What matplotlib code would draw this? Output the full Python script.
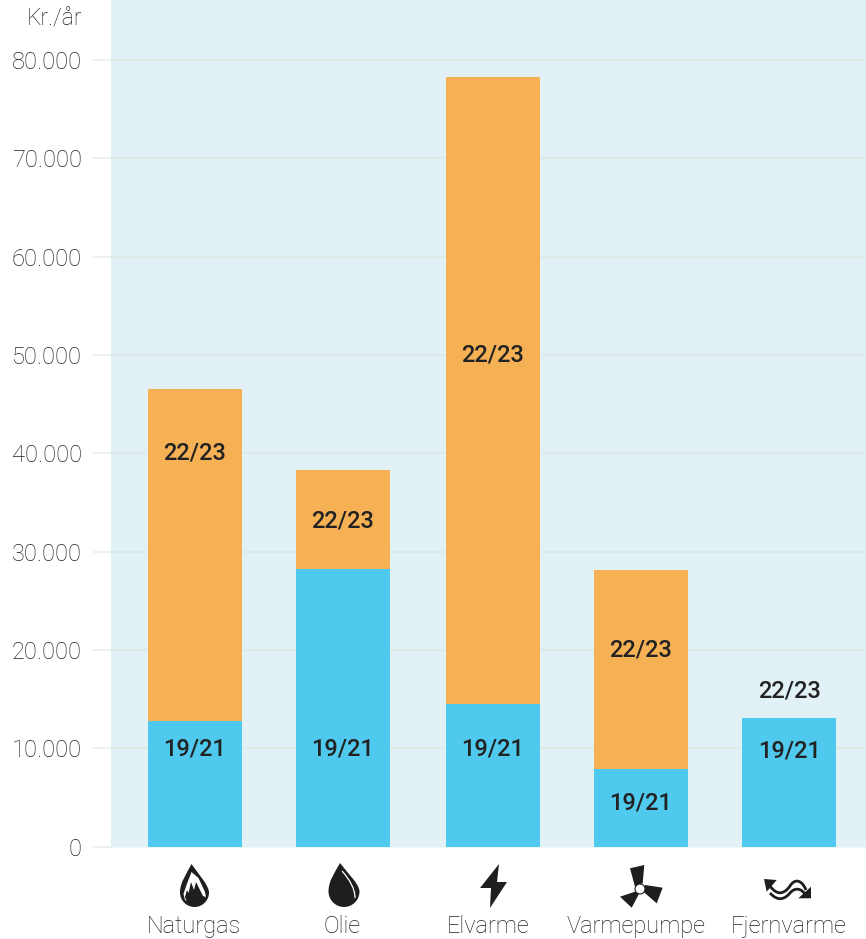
import matplotlib
matplotlib.use("Agg")
import matplotlib.pyplot as plt
from matplotlib.path import Path
from matplotlib.patches import PathPatch, Polygon, Circle

categories = ["Naturgas", "Olie", "Elvarme", "Varmepumpe", "Fjernvarme"]
cost_19_21 = [12800, 28200, 14500, 7900, 13100]
cost_22_23_total = [46500, 38300, 78300, 28100, 13100]
label_y_19_21 = [9900, 9900, 9900, 4400, 9700]
label_y_22_23 = [40000, 33100, 50000, 20000, 15800]
yticks = [0, 10000, 20000, 30000, 40000, 50000, 60000, 70000, 80000]
ytick_labels = ["0", "10.000", "20.000", "30.000", "40.000", "50.000", "60.000", "70.000", "80.000"]
bar_pos = [0, 0.993, 2.003, 3.003, 4]
name_pos = [-0.007, 0.993, 1.975, 2.970, 3.995]

W, H = 866, 939
plt.rcParams["font.family"] = ["Roboto", "DejaVu Sans"]
BG = "#E1F1F5"; GRID = "#DCEBE6"; ORANGE = "#F6B155"; BLUE = "#4FC9EE"; INK = "#222222"; GREY = "#222222"

fig = plt.figure(figsize=(W / 100, H / 100), dpi=100, facecolor="white")
ax = fig.add_axes([111 / W, (H - 846.5) / H, (W - 111) / W, 846.5 / H], facecolor=BG)
ax.set_xlim(-0.566, 4.518)
ax.set_ylim(0, 86100)

increase = [t - b for t, b in zip(cost_22_23_total, cost_19_21)]
ax.set_axisbelow(True)
ax.yaxis.grid(True, color=GRID, lw=1.6)
ax.bar(bar_pos, cost_19_21, width=0.633, color=BLUE, zorder=3)
ax.bar(bar_pos, increase, bottom=cost_19_21, width=0.633, color=ORANGE, zorder=3)

for i, p in enumerate(bar_pos):
    ax.text(p, label_y_19_21[i], "19/21", ha="center", va="center", fontsize=17, fontweight="medium", color=INK, zorder=4)
    ax.text(p, label_y_22_23[i], "22/23", ha="center", va="center", fontsize=17, fontweight="medium", color=INK, zorder=4)

for s in ax.spines.values():
    s.set_visible(False)
ax.spines["bottom"].set_visible(True)
ax.spines["bottom"].set_color("#EAF3F5")
ax.spines["bottom"].set_linewidth(1.2)

ax.set_yticks(yticks, ytick_labels)
ax.tick_params(axis="y", length=13, width=1.2, color="#EAEFEC", pad=8, labelsize=17, labelcolor=GREY)
ax.set_xticks(name_pos, categories)
ax.tick_params(axis="x", length=0, pad=49.5, labelsize=17, labelcolor=GREY)
for lab in ax.get_yticklabels() + ax.get_xticklabels():
    lab.set_fontweight("light")

fig.text(82 / W, 1 - 19 / H, "Kr./år", ha="right", va="center", fontsize=16.5, fontweight="light", color=GREY)

# Icon layer in pixel coordinates
ic = fig.add_axes([0, 0, 1, 1], facecolor="none")
ic.set_xlim(0, W); ic.set_ylim(H, 0); ic.axis("off")
D = "#1E1E1E"

def drop(cx, tip_x, top, bottom, hw):
    r = hw
    cy = bottom - r
    k = 0.55 * r
    verts = [(tip_x, top),
             (tip_x + 0.4 * hw, top + 0.3 * (cy - top)), (cx + hw, cy - 0.5 * r), (cx + hw, cy),
             (cx + hw, cy + k), (cx + k, bottom), (cx, bottom),
             (cx - k, bottom), (cx - hw, cy + k), (cx - hw, cy),
             (cx - hw, cy - 0.7 * r), (tip_x - 0.35 * hw, top + 0.35 * (cy - top)), (tip_x, top), (tip_x, top)]
    codes = [Path.MOVETO] + [Path.CURVE4] * 12 + [Path.CLOSEPOLY]
    return Path(verts, codes)

# Naturgas: drop with white outlined flame
ic.add_patch(PathPatch(drop(194.5, 191.5, 864, 907, 14.5), fc=D, ec="none"))
ic.add_patch(Polygon([(183.5, 894), (186.5, 885), (191.5, 872), (198.5, 878), (205, 892), (206, 897),
                      (195, 905), (185, 900)], fc="white", ec="none"))
ic.add_patch(Polygon([(185, 897), (187, 890), (188.5, 893), (191, 882), (194, 890), (196, 882), (203, 896),
                      (206, 897), (200, 905), (188, 905)], fc=D, ec="none"))

# Olie: drop with highlight
ic.add_patch(PathPatch(drop(344, 340, 863, 907, 15.5), fc=D, ec="none"))
ic.add_patch(PathPatch(Path([(342, 871), (350, 880), (355, 889), (355, 898)],
                            [Path.MOVETO, Path.CURVE4, Path.CURVE4, Path.CURVE4]),
                       fc="none", ec="white", lw=0.9))

# Elvarme: lightning bolt
ic.add_patch(Polygon([(499, 864), (480, 888), (491, 888), (490, 908), (507, 882), (497, 882)], fc=D, ec="none"))

# Varmepumpe: three-blade fan
ic.add_patch(Polygon([(630, 868.3), (644.3, 865), (642.7, 883.3), (635, 886.7)], fc=D, ec="none"))
ic.add_patch(Polygon([(645, 885), (662.7, 887.7), (656.7, 903.3), (643.3, 891.7)], fc=D, ec="none"))
ic.add_patch(Polygon([(620, 896.7), (635, 891.7), (639.3, 893.3), (631.7, 907.7)], fc=D, ec="none"))
ic.add_patch(Circle((640, 889), 5, fc="white", ec=D, lw=0.8))

# Fjernvarme: wavy arrows
for y0, y1, y2, y3, y4, y5, y6 in [(886, 897, 893, 886, 878, 880, 890), (893, 902, 899, 893, 887, 888, 896)]:
    ic.add_patch(PathPatch(Path([(770, y0), (778, y1), (785, y2), (790, y3), (795, y4), (802, y5), (806, y6)],
                                [Path.MOVETO] + [Path.CURVE4] * 6),
                           fc="none", ec=D, lw=2.0))
ic.add_patch(Polygon([(764, 879), (776.7, 880), (766.7, 891.7)], fc=D, ec="none"))
ic.add_patch(Polygon([(811, 898.3), (811, 886.7), (798.3, 898.3)], fc=D, ec="none"))

fig.savefig("out.png", dpi=100)
